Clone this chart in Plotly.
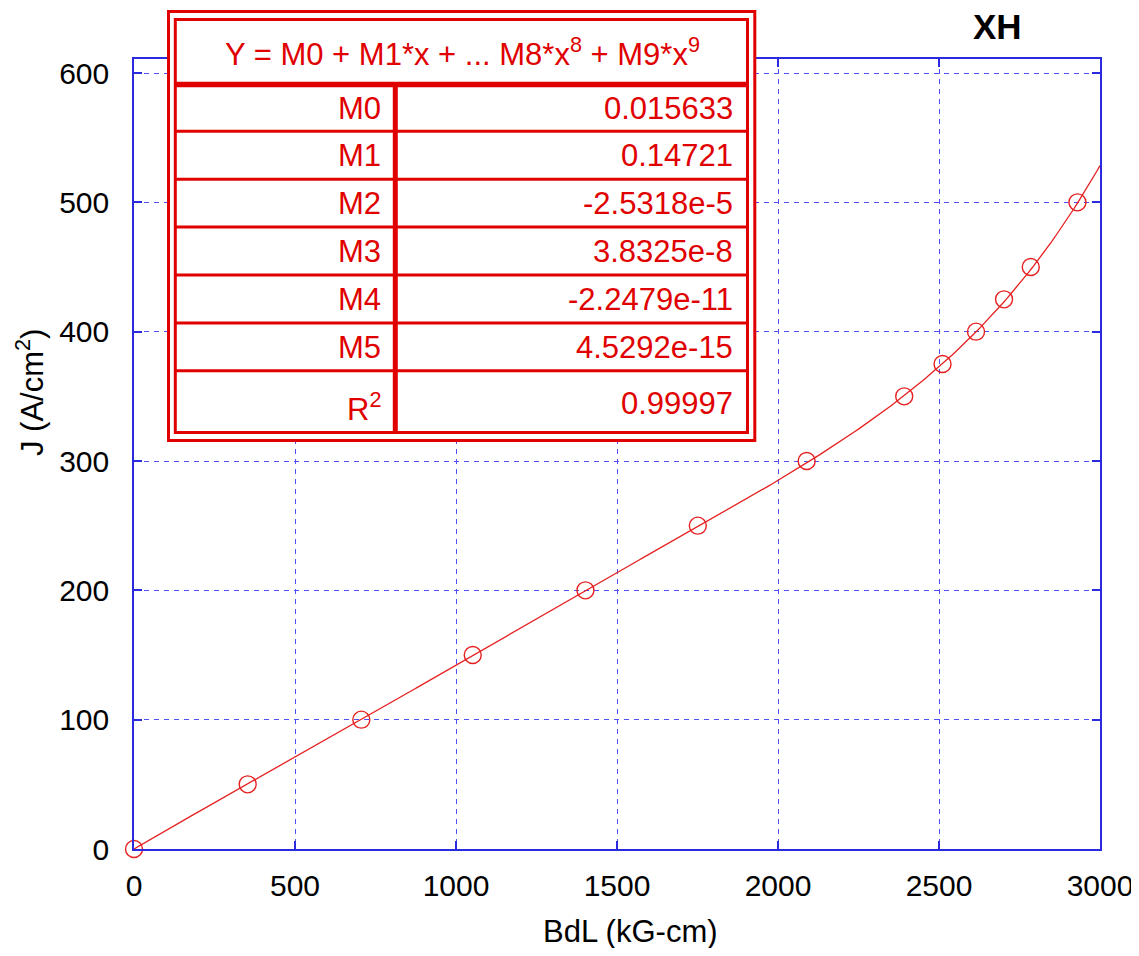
import numpy as np
import plotly.graph_objects as go

# ---- data ----
bdl = [0, 353, 706, 1052, 1402, 1751, 2089, 2392, 2511, 2615, 2702, 2785, 2930]
jval = [0, 50, 100, 150, 200, 250, 300, 350, 375, 400, 425, 450, 500]

coef_names = ["M0", "M1", "M2", "M3", "M4", "M5"]
coef_values = [0.015633, 0.14721, -2.5318e-5, 3.8325e-8, -2.2479e-11, 4.5292e-15]
coef_labels = ["0.015633", "0.14721", "-2.5318e-5", "3.8325e-8", "-2.2479e-11", "4.5292e-15"]
r2_label = "0.99997"

x_ticks = [0, 500, 1000, 1500, 2000, 2500, 3000]
y_ticks = [0, 100, 200, 300, 400, 500, 600]

# ---- layout geometry (reference pixels; page body has an 8px offset) ----
OFF = 8
W, H = 1139 - OFF, 956 - 2 * OFF
L, R, T, B = 134, 1100, 59, 849


def px(xp):
    return (xp - L) / (R - L)


def py(yp):
    return (B - yp) / (B - T)


RED = "#e00000"
CURVE = "#e62020"
BLUE = "#2a2ae0"
GRID = "#4f4ff2"
FONT = "Liberation Sans, Arial, sans-serif"

# fitted curve from table coefficients
xf = np.linspace(0, 3000, 301)
yf = sum(c * xf ** i for i, c in enumerate(coef_values))

fig = go.Figure()
fig.add_trace(go.Scatter(x=xf, y=yf, mode="lines",
                         line=dict(color=CURVE, width=1.3), hoverinfo="skip"))
fig.add_trace(go.Scatter(x=bdl, y=jval, mode="markers", cliponaxis=False,
                         marker=dict(symbol="circle-open", size=17,
                                     color=CURVE, line=dict(width=1.4))))

shapes = []
# table background
shapes.append(dict(type="rect", xref="paper", yref="paper", layer="above",
                   x0=px(167), x1=px(756), y0=py(10), y1=py(442),
                   fillcolor="white", line=dict(width=0)))
# outer and inner frames
for (a, b, c, d) in [(168.5, 754.8, 11.5, 440.5), (175.3, 747.5, 19.5, 432.5)]:
    shapes.append(dict(type="rect", xref="paper", yref="paper", layer="above",
                       x0=px(a), x1=px(b), y0=py(c), y1=py(d),
                       line=dict(color=RED, width=3)))
# header separator
shapes.append(dict(type="line", xref="paper", yref="paper", layer="above",
                   x0=px(175.3), x1=px(747.5), y0=py(84.5), y1=py(84.5),
                   line=dict(color=RED, width=5.5)))
# row separators
row_lines = [131.3, 179.2, 227.1, 275.0, 322.9, 370.8]
for yl in row_lines:
    shapes.append(dict(type="line", xref="paper", yref="paper", layer="above",
                       x0=px(175.3), x1=px(747.5), y0=py(yl), y1=py(yl),
                       line=dict(color=RED, width=3)))
# vertical divider
shapes.append(dict(type="line", xref="paper", yref="paper", layer="above",
                   x0=px(395.3), x1=px(395.3), y0=py(84.5), y1=py(432.5),
                   line=dict(color=RED, width=5)))

ann = []
tf = dict(family=FONT, size=31, color=RED)
ann.append(dict(xref="paper", yref="paper", x=px(462), y=py(52),
                text="Y = M0 + M1*x + ... M8*x<sup>8</sup> + M9*x<sup>9</sup>",
                showarrow=False, xanchor="center", yanchor="middle", font=tf))
row_centers = [108, 155.5, 203.5, 251.5, 299.5, 347.5]
for name, lab, yc in zip(coef_names, coef_labels, row_centers):
    ann.append(dict(xref="paper", yref="paper", x=px(383), y=py(yc), text=name,
                    showarrow=False, xanchor="right", yanchor="middle", font=tf))
    ann.append(dict(xref="paper", yref="paper", x=px(735), y=py(yc), text=lab,
                    showarrow=False, xanchor="right", yanchor="middle", font=tf))
ann.append(dict(xref="paper", yref="paper", x=px(383), y=py(407), text="R<sup>2</sup>",
                showarrow=False, xanchor="right", yanchor="middle", font=tf))
ann.append(dict(xref="paper", yref="paper", x=px(735), y=py(403), text=r2_label,
                showarrow=False, xanchor="right", yanchor="middle", font=tf))

# title and axis titles
ann.append(dict(xref="paper", yref="paper", x=px(997), y=py(26), text="<b>XH</b>",
                showarrow=False, xanchor="center", yanchor="middle",
                font=dict(family=FONT, size=35, color="black")))
ann.append(dict(xref="paper", yref="paper", x=px(630), y=py(931), text="BdL (kG-cm)",
                showarrow=False, xanchor="center", yanchor="middle",
                font=dict(family=FONT, size=31, color="black")))
ann.append(dict(xref="paper", yref="paper", x=px(30), y=py(393), text="J (A/cm<sup>2</sup>)",
                showarrow=False, xanchor="center", yanchor="middle", textangle=-90,
                font=dict(family=FONT, size=31, color="black")))

axis_common = dict(showline=True, linecolor=BLUE, linewidth=1.5, mirror="ticks",
                   ticks="inside", ticklen=8, tickcolor=BLUE, tickwidth=1.5,
                   showgrid=True, gridcolor=GRID, gridwidth=1, griddash="5px,5px",
                   zeroline=False, tickfont=dict(family=FONT, size=30, color="black"))

fig.update_layout(
    width=W, height=H, showlegend=False,
    paper_bgcolor="white", plot_bgcolor="white",
    margin=dict(l=L - OFF, r=W - (R - OFF), t=T - OFF, b=H - (B - OFF), autoexpand=False),
    xaxis=dict(range=[0, 3000], tickvals=x_ticks, ticklabelstandoff=9,
               ticklabeloverflow="allow", **axis_common),
    yaxis=dict(range=[0, (B - T) / ((B - 73) / 600)], tickvals=y_ticks,
               ticklabelstandoff=17, **axis_common),
    shapes=shapes, annotations=ann,
)

fig.write_html("out.html")
